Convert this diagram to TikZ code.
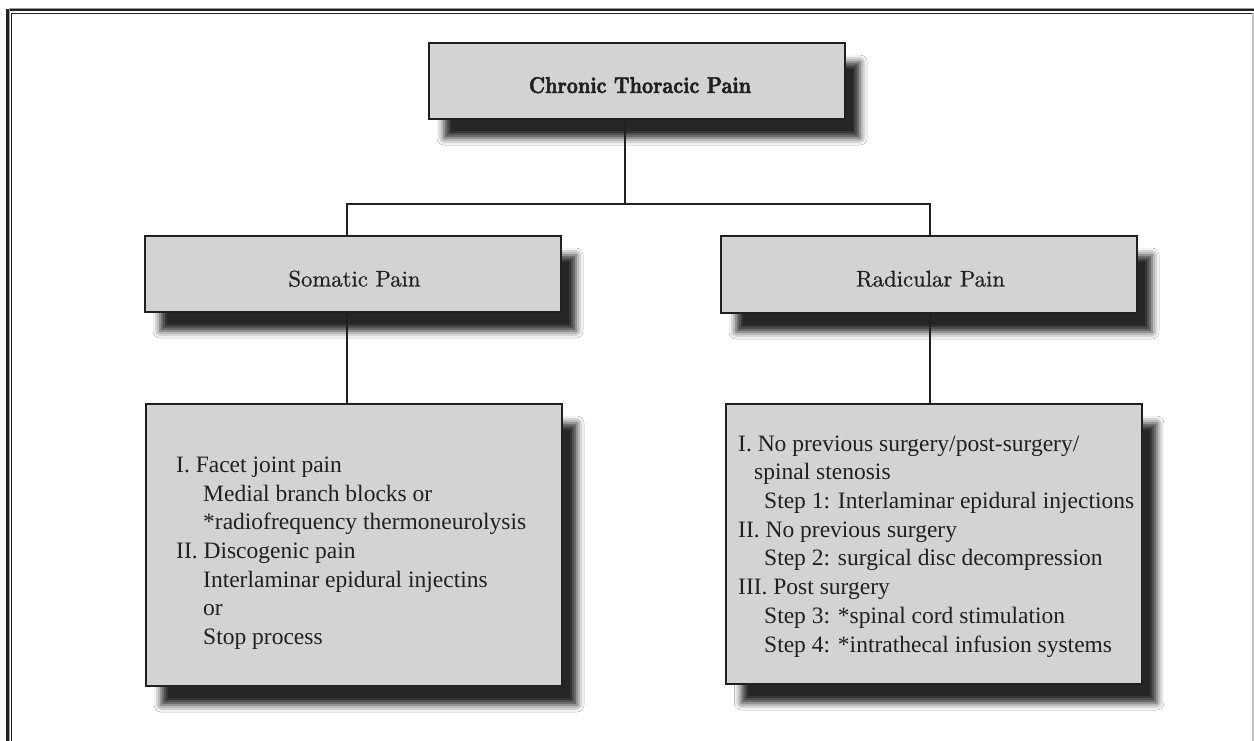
\documentclass[tikz,border=0pt]{standalone}
\usepackage{fontspec}
\newfontfamily\bodyfont{Liberation Serif}
\newfontfamily\headfont{lmroman10-regular.otf}[FakeBold=0.7]
\newfontfamily\topfont{lmroman10-bold.otf}[FakeBold=2.2, FakeStretch=0.85]
\usetikzlibrary{shadows.blur}
\definecolor{ink}{HTML}{231F20}
\definecolor{boxfill}{HTML}{D2D3D5}
\definecolor{framegray}{HTML}{9A9A9A}
\begin{document}
\begin{tikzpicture}[x=1pt,y=-1pt,
  pbox/.style={draw=ink, line width=2.4pt, fill=boxfill, inner sep=0pt,
    minimum width=416pt,
    blur shadow={shadow xshift=15pt, shadow yshift=-19pt,
      shadow blur radius=7pt, shadow opacity=85}},
  head/.style={anchor=base, inner sep=0pt, text=ink,
    font=\headfont\fontsize{22.7}{26}\selectfont},
  body/.style={anchor=base west, inner sep=0pt, text=ink,
    font=\bodyfont\fontsize{23.5}{28.8}\selectfont},
  conn/.style={draw=ink, line width=2pt}]
\useasboundingbox (0,0) rectangle (1254,741);
\fill[white] (0,0) rectangle (1254,741);
% frame
\draw[ink, line width=2.6pt] (7.5,741) -- (7.5,10) -- (1254,10);
\draw[framegray, line width=0.8pt] (9.6,741) -- (9.6,8.2) -- (1254,8.2);
\draw[ink, line width=1.3pt] (11.8,741) -- (11.8,13.2) -- (1254,13.2);
\draw[framegray!60, line width=1.4pt] (1253,13) -- (1253,741);
% boxes
\node[pbox, minimum height=76pt] (top) at (637,81) {};
\node[pbox, minimum height=76pt] (soma) at (353,274) {};
\node[pbox, minimum height=77pt] (rad) at (929,274.5) {};
\node[pbox, minimum height=282pt] (lowl) at (354,545) {};
\node[pbox, minimum height=280pt, minimum width=415.5pt] (lowr) at (934,544) {};
% headings
\node[head, font=\topfont\fontsize{22.9}{26}\selectfont] (toptxt) at (640,93) {Chronic Thoracic Pain};
\node[head] (somatxt) at (354.5,286.5) {Somatic Pain};
\node[head] (radtxt) at (930.5,286.5) {Radicular Pain};
% connectors
\coordinate (jm) at (625,204);
\coordinate (jl) at (347,204);
\coordinate (jr) at (930,204);
\draw[conn] (top.south -| jm) -- (jm);
\draw[conn] (soma.north -| jl) -- (jl) -- (jr) -- (rad.north -| jr);
\draw[conn] (soma.south -| jl) -- (lowl.north -| jl);
\draw[conn] (rad.south -| jr) -- (lowr.north -| jr);
% left list
\node[body] (l1) at (176,472) {I. Facet joint pain};
\node[body] (l2) at (203,501) {Medial branch blocks or};
\node[body] (l3) at (203,529.5) {*radiofrequency thermoneurolysis};
\node[body] (l4) at (176,558) {II. Discogenic pain};
\node[body] (l5) at (203,587) {Interlaminar epidural injectins};
\node[body] (l6) at (203,615.5) {or};
\node[body] (l7) at (203,644.5) {Stop process};
% right list
\node[body] (r1) at (738,451) {I. No previous surgery/post-surgery/};
\node[body] (r2) at (754,479.5) {spinal stenosis};
\node[body] (r3) at (764,508.5) {Step 1: Interlaminar epidural injections};
\node[body] (r4) at (738,537) {II. No previous surgery};
\node[body] (r5) at (764,565.5) {Step 2: surgical disc decompression};
\node[body] (r6) at (738,594) {III. Post surgery};
\node[body] (r7) at (764,623) {Step 3: *spinal cord stimulation};
\node[body] (r8) at (764,652) {Step 4: *intrathecal infusion systems};
\end{tikzpicture}
\end{document}
